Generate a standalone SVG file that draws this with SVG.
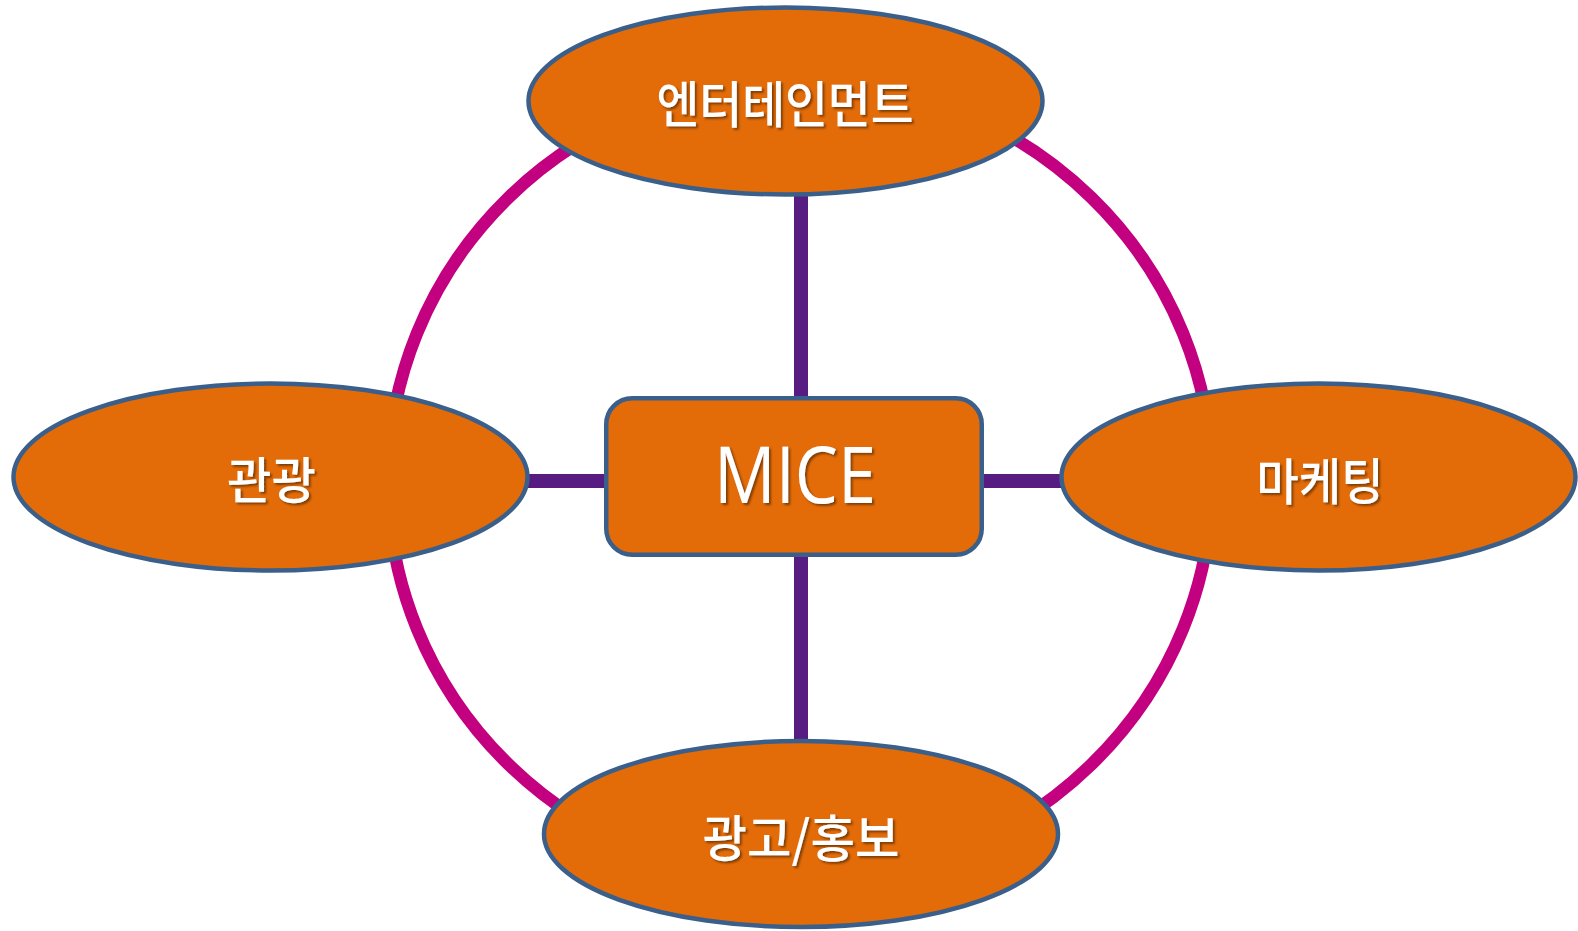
<svg xmlns="http://www.w3.org/2000/svg" width="1578" height="931" viewBox="0 0 1578 931">
  <defs>
    <filter id="shadow" x="-10%" y="-30%" width="120%" height="160%">
      <feDropShadow dx="2" dy="2" stdDeviation="1" flood-color="#3A1A00" flood-opacity="0.6"/>
    </filter>
  </defs>
  <style>
    .node { fill: #E36C09; stroke: #3A5F8B; stroke-width: 4.5; }
    .ring { fill: none; stroke: #C3007F; stroke-width: 12.5; }
    .link { stroke: #561C82; stroke-width: 14; fill: none; }
    .kr { font-family: "Noto Sans CJK KR", "Noto Sans", sans-serif; font-size: 50px; font-weight: 500; fill: #FFFFFF; text-anchor: middle; dominant-baseline: central; filter: url(#shadow); }
    .en { font-family: "Open Sans", "Liberation Sans", sans-serif; font-size: 79px; fill: #FFFFFF; text-anchor: middle; filter: url(#shadow); }
  </style>
  <rect x="0" y="0" width="1578" height="931" fill="#FFFFFF"/>
  <g id="connectors">
    <ellipse class="ring" cx="800" cy="481" rx="412" ry="401"/>
    <line class="link" x1="801" y1="101" x2="801" y2="834"/>
    <line class="link" x1="270" y1="481" x2="1318" y2="481"/>
  </g>
  <g id="node-entertainment">
    <ellipse class="node" cx="785.5" cy="101" rx="257" ry="93.5"/>
    <text class="kr" x="785" y="101" textLength="257" lengthAdjust="spacingAndGlyphs">엔터테인먼트</text>
  </g>
  <g id="node-tourism">
    <ellipse class="node" cx="270.5" cy="477" rx="257" ry="93.5"/>
    <text class="kr" x="271.5" y="477" textLength="89" lengthAdjust="spacingAndGlyphs">관광</text>
  </g>
  <g id="node-marketing">
    <ellipse class="node" cx="1318.5" cy="477" rx="257" ry="93.5"/>
    <text class="kr" x="1320" y="478" textLength="127" lengthAdjust="spacingAndGlyphs">마케팅</text>
  </g>
  <g id="node-advertising">
    <ellipse class="node" cx="801" cy="834" rx="257" ry="93"/>
    <text class="kr" x="801" y="835" textLength="197" lengthAdjust="spacingAndGlyphs">광고/홍보</text>
  </g>
  <g id="node-mice">
    <rect class="node" x="606.25" y="398.25" width="375.5" height="156.5" rx="26" ry="26"/>
    <text class="en" x="795" y="503" textLength="162" lengthAdjust="spacingAndGlyphs">MICE</text>
  </g>
</svg>
